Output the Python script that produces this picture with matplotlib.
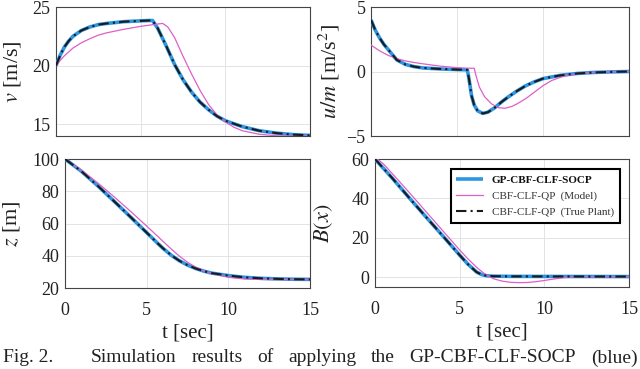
import numpy as np
import matplotlib
matplotlib.use('Agg')
import matplotlib.pyplot as plt

plt.rcParams['font.family'] = ['Liberation Serif', 'DejaVu Serif']
plt.rcParams['mathtext.fontset'] = 'stix'

# ---- data ----
# velocity v [m/s]
t_v = [0, 0.25, 0.5, 0.75, 1, 1.5, 2, 2.5, 3, 4, 5, 5.5, 5.7, 6, 6.5, 7, 7.5, 8, 8.5, 9, 9.5, 10, 11, 12, 13, 14, 15]
v_gp = [20, 20.9, 21.6, 22.1, 22.5, 23.0, 23.3, 23.5, 23.6, 23.75, 23.82, 23.85, 23.85, 23.2, 21.7, 20.1, 18.8, 17.75, 16.9, 16.25, 15.7, 15.3, 14.8, 14.45, 14.25, 14.12, 14.05]
t_v_mod = [0, 0.25, 0.5, 1, 1.5, 2, 2.5, 3, 3.5, 4, 5, 6, 6.3, 6.6, 7, 7.5, 8, 8.5, 9, 9.5, 10, 10.5, 11, 12, 13, 14, 15]
v_mod = [20, 20.45, 20.85, 21.5, 21.95, 22.3, 22.6, 22.8, 22.95, 23.1, 23.35, 23.55, 23.6, 23.3, 22.4, 20.8, 19.3, 17.9, 16.7, 15.8, 15.2, 14.75, 14.45, 14.15, 14.02, 14.0, 14.0]

# control u/m [m/s^2]
t_u = [0, 0.25, 0.5, 0.75, 1, 1.5, 2, 2.5, 3, 4, 5, 5.6, 5.7, 5.85, 6.0, 6.2, 6.5, 6.8, 7.2, 7.6, 8, 8.5, 9, 9.5, 10, 11, 12, 13, 14, 15]
u_gp = [4.0, 3.2, 2.6, 2.1, 1.7, 0.9, 0.55, 0.38, 0.28, 0.2, 0.15, 0.13, -0.6, -1.9, -2.6, -3.05, -3.25, -3.15, -2.8, -2.35, -1.95, -1.5, -1.1, -0.8, -0.55, -0.3, -0.15, -0.07, -0.03, 0.0]
t_u_mod = [0, 0.5, 1, 1.5, 2, 2.5, 3, 4, 5, 5.5, 6.0, 6.1, 6.3, 6.6, 7.0, 7.4, 7.8, 8.2, 8.5, 9, 9.5, 10, 10.5, 11, 11.5, 12, 13, 14, 15]
u_mod = [2.05, 1.6, 1.25, 1.0, 0.82, 0.7, 0.6, 0.42, 0.3, 0.26, 0.25, -0.3, -1.2, -1.95, -2.5, -2.8, -2.85, -2.7, -2.5, -2.1, -1.6, -1.1, -0.7, -0.45, -0.28, -0.16, -0.05, -0.02, 0.0]

# distance z [m]
t_z = [0, 1, 2, 3, 4, 5, 5.7, 6, 6.5, 7, 7.5, 8, 8.5, 9, 10, 11, 12, 13, 14, 15]
z_gp = [100, 92.4, 83.4, 73.85, 64.15, 54.35, 47.45, 44.6, 40.35, 36.9, 34.2, 32.1, 30.45, 29.2, 27.7, 26.6, 26.0, 25.65, 25.45, 25.35]
t_z_mod = [0, 1, 2, 3, 4, 5, 6, 6.5, 7, 7.5, 8, 8.5, 9, 10, 11, 12, 13, 14, 15]
z_mod = [100, 93.15, 85.2, 76.6, 67.65, 58.4, 48.95, 44.2, 39.75, 35.95, 32.95, 30.65, 29.0, 26.6, 25.6, 25.3, 25.2, 25.2, 25.2]

# barrier B(x)
t_b = [0, 1, 2, 3, 4, 5, 5.5, 6, 6.3, 6.6, 7, 8, 15]
b_gp = [60, 50.5, 40.5, 30.7, 21, 11.2, 6.5, 2.6, 1.3, 0.7, 0.5, 0.4, 0.3]
t_b_mod = [0, 0.5, 1, 2, 3, 4, 5, 5.5, 6, 6.5, 7, 7.5, 8, 8.5, 9, 9.5, 10, 10.5, 11, 11.5, 12, 15]
b_mod = [61, 57.5, 52.8, 43.2, 33.4, 23.6, 13.8, 9.2, 5.0, 1.5, -0.8, -2.0, -2.6, -2.8, -2.7, -2.3, -1.7, -1.0, -0.4, 0.1, 0.3, 0.3]

labels = ['GP-CBF-CLF-SOCP', 'CBF-CLF-QP  (Model)', 'CBF-CLF-QP  (True Plant)']
c_blue = '#2E96E2'
c_pink = '#DD5FC8'
c_black = '#1a1a1a'

fig = plt.figure(figsize=(6.4, 3.69), dpi=100)
ax_v = fig.add_axes([0.0875, 0.6314, 0.397, 0.3496])
ax_u = fig.add_axes([0.5797, 0.6314, 0.4031, 0.3496])
ax_z = fig.add_axes([0.1016, 0.2195, 0.3828, 0.3496])
ax_b = fig.add_axes([0.5859, 0.2222, 0.3969, 0.3469])

panels = [
    (ax_v, t_v, v_gp, t_v_mod, v_mod, (14, 25), [15, 20, 25], r'$v$ [m/s]', -0.13),
    (ax_u, t_u, u_gp, t_u_mod, u_mod, (-5, 5), [-5, 0, 5], r'$u/m$ [m/s$^2$]', -0.112),
    (ax_z, t_z, z_gp, t_z_mod, z_mod, (20, 100), [20, 40, 60, 80, 100], r'$z$ [m]', -0.176),
    (ax_b, t_b, b_gp, t_b_mod, b_mod, (-5, 60), [0, 20, 40, 60], r'$B(x)$', -0.157),
]

for ax, t1, y1, t2, y2, ylim, yt, ylab, lx in panels:
    l1, = ax.plot(t1, y1, color=c_blue, lw=2.6, solid_capstyle='butt', zorder=3)
    l2, = ax.plot(t2, y2, color=c_pink, lw=0.9, zorder=4)
    l3, = ax.plot(t1, y1, color=c_black, lw=1.5, ls=(0, (5, 2, 1, 2)), zorder=5)
    ax.set_xlim(0, 15)
    ax.set_ylim(*ylim)
    ax.set_xticks([0, 5, 10, 15])
    ax.set_yticks(yt)
    ax.grid(True, color='#e3e3e3', lw=0.7)
    ax.set_axisbelow(True)
    for s in ax.spines.values():
        s.set_color('#444444')
        s.set_linewidth(0.8)
    ax.tick_params(direction='in', length=0, labelsize=13, pad=4, colors='#222222')
    ax.tick_params(axis='x', pad=10)
    ax.set_ylabel(ylab, fontsize=16, color='#222222')
    ax.yaxis.set_label_coords(lx, 0.5)

ax_v.set_xticklabels([])
ax_u.set_xticklabels([])
for ax in (ax_z, ax_b):
    ax.set_xlabel('t [sec]', fontsize=15, labelpad=3, color='#222222')

leg = ax_b.legend([l1, l2, l3], labels, loc='upper right', bbox_to_anchor=(0.985, 0.962),
                  fontsize=8, handlelength=2.4, fancybox=False, framealpha=1,
                  edgecolor='black', borderpad=0.5, labelspacing=0.55)
leg.get_frame().set_linewidth(1.5)
for txt in leg.get_texts():
    txt.set_color('#333333')
leg.get_texts()[0].set_fontweight('bold')
leg.get_texts()[0].set_color('#111111')

# caption, spread out like justified text
fig.text(0.005, 0.03, 'Fig. 2.', fontsize=14, va='center', ha='left', color='#222222')
words = 'Simulation results of applying the GP-CBF-CLF-SOCP (blue)'.split()
r = fig.canvas.get_renderer()
tw = []
for w in words:
    tt = fig.text(0, 0, w, fontsize=14)
    tw.append(tt.get_window_extent(renderer=r).width / fig.bbox.width)
    tt.remove()
x0, x1 = 0.142, 0.996
gap = (x1 - x0 - sum(tw)) / (len(words) - 1)
x = x0
for w, wd in zip(words, tw):
    fig.text(x, 0.03, w, fontsize=14, va='center', ha='left', color='#222222')
    x += wd + gap

fig.savefig('out.png', dpi=100)
